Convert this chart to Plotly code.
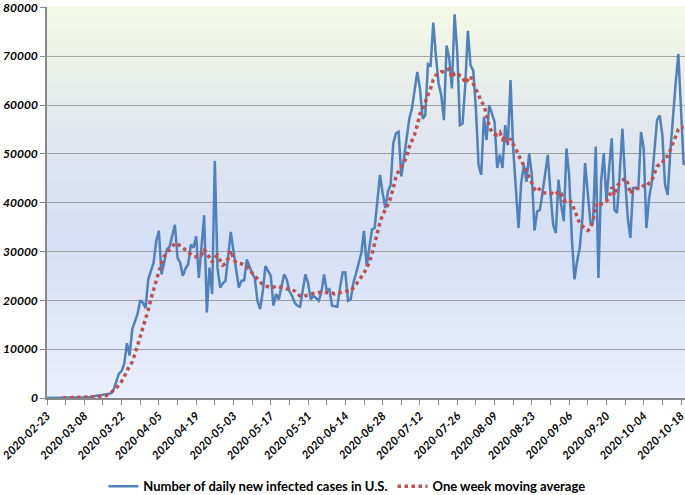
import pandas as pd
import plotly.graph_objects as go

# ---- data ----
blue_start = "2020-02-23"
daily_cases = [
    0, 0, 0, 0, 0, 0, 0, 10, 20, 30,
    40, 60, 80, 100, 120, 150, 200, 280, 350, 450,
    550, 700, 750, 850, 950, 1700, 3600, 5000, 5500, 7000,
    11200, 8700, 14100, 15500, 17200, 20000, 19500, 18400, 24300, 26000,
    27700, 32100, 34300, 25300, 28000, 30400, 31000, 33500, 35500, 28700,
    27700, 25000, 26500, 27400, 31400, 30800, 33100, 24600, 31000, 37400,
    17500, 26700, 21300, 48600, 26700, 22600, 23500, 24000, 29000, 34000,
    30100, 26000, 22600, 24000, 24100, 28400, 27000, 25500, 24600, 19900,
    18200, 21800, 27000, 26000, 25000, 18900, 21300, 20200, 22500, 25300,
    24300, 21900, 20900, 19500, 18900, 18700, 22000, 25300, 23600, 20200,
    20900, 20500, 19900, 21600, 25300, 22000, 22300, 18900, 18800, 18700,
    22600, 25700, 25700, 19900, 20200, 23600, 25500, 27500, 29700, 34200,
    27000, 30800, 34500, 34800, 40300, 45700, 42000, 38900, 42300, 43700,
    52200, 54200, 54500, 45400, 49100, 53000, 57200, 59300, 63000, 66800,
    63400, 57200, 57900, 68400, 68100, 76900, 70000, 64400, 62000, 56900,
    72200, 69500, 63400, 78600, 70800, 55900, 56200, 64000, 75200, 68100,
    67100, 59300, 47700, 45700, 57600, 52800, 60000, 58500, 56600, 47100,
    49800, 47100, 55900, 51800, 65100, 51100, 43000, 34800, 44000, 47700,
    44300, 50100, 45700, 34300, 38200, 38500, 42000, 46000, 49800, 42000,
    35500, 33800, 44700, 39600, 36200, 51100, 45700, 33000, 24300, 28000,
    30800, 36900, 48100, 42000, 35900, 36200, 51500, 24600, 44300, 50100,
    40300, 47000, 53200, 38600, 37900, 46000, 55200, 45000, 36900, 32800,
    43000, 43000, 43000, 54500, 51100, 34800, 40900, 44000, 50000, 56900,
    57900, 53900, 43700, 41600, 50500, 58600, 64500, 70500, 59000, 47700,
]

red_start = "2020-02-29"
moving_avg = [
    0, 10, 15, 25, 35, 50, 65, 85, 110, 130,
    150, 170, 200, 220, 250, 320, 450, 700, 1100, 1600,
    2100, 2600, 3400, 4300, 5600, 6400, 7400, 9000, 10700, 12600,
    14500, 16200, 18000, 20300, 22200, 24200, 26000, 27700, 29000, 29800,
    30400, 31000, 31700, 31600, 31200, 30800, 30400, 30000, 29500, 29000,
    28900, 29000, 29300, 30500, 29500, 28800, 27800, 28800, 29200, 28000,
    27200, 27500, 28500, 30200, 28500, 27700, 27600, 27500, 27200, 26900,
    26200, 25600, 24800, 24200, 23600, 23200, 23000, 22800, 22600, 22700,
    22900, 22800, 22600, 22400, 22300, 22300, 22200, 21900, 21500, 20900,
    20800, 20900, 21100, 21300, 21400, 21600, 21700, 21700, 21600, 21600,
    21600, 21500, 21300, 21400, 21600, 21800, 21900, 21900, 21900, 22500,
    23300, 24000, 24700, 25600, 26600, 27800, 29500, 31800, 34000, 36000,
    37500, 38500, 39600, 41000, 43000, 45200, 46500, 47300, 48300, 49400,
    51400, 52700, 54000, 55900, 58200, 59200, 60500, 62000, 63400, 65200,
    66100, 66300, 66800, 66800, 67200, 67400, 65600, 66500, 66600, 66000,
    65800, 64500, 65200, 65900, 64400, 63400, 62100, 60700, 60000, 58000,
    55600, 54400, 54000, 53900, 54400, 53000, 53500, 52200, 53100, 52000,
    51100, 49700, 48800, 47600, 46500, 45200, 44300, 42800, 43300, 42500,
    42000, 42000, 42000, 42000, 41900, 41600, 42300, 41900, 40400, 40500,
    40600, 39900, 38600, 37000, 35700, 35200, 34700, 34300, 34700, 36300,
    39600, 39100, 39700, 39900, 40300, 41000, 43200, 41500, 43500, 44000,
    44500, 45000, 44000, 41800, 42600, 42900, 42900, 43000, 43500, 43300,
    44000, 44400, 46000, 47400, 47900, 48100, 49400, 49500, 50800, 52400,
    53600, 55000, 55400, 55500,
]

blue_name = "Number of daily new infected cases in U.S."
red_name = "One week moving average"
y_ticks = [0, 10000, 20000, 30000, 40000, 50000, 60000, 70000, 80000]

blue_dates = pd.date_range(blue_start, periods=len(daily_cases), freq="D")
red_dates = pd.date_range(red_start, periods=len(moving_avg), freq="D")

FONT = "Lato"

fig = go.Figure()
fig.add_trace(go.Scatter(x=blue_dates, y=daily_cases, mode="lines", name=blue_name,
                         line=dict(color="#4F81BD", width=2.5)))
fig.add_trace(go.Scatter(x=red_dates, y=moving_avg, mode="lines", name=red_name,
                         line=dict(color="#C0504D", width=3.5, dash="dot")))

# gradient background of the plot area (top pale green -> blue -> pale blue)
stops = [(0.0, (244, 249, 228)), (0.3, (226, 232, 238)), (0.6, (213, 223, 245)), (1.0, (234, 239, 251))]
def col_at(t):
    for (t0, c0), (t1, c1) in zip(stops[:-1], stops[1:]):
        if t0 <= t <= t1:
            f = (t - t0) / (t1 - t0)
            return "rgb(%d,%d,%d)" % tuple(round(a + (b - a) * f) for a, b in zip(c0, c1))
    return "rgb(%d,%d,%d)" % stops[-1][1]

n = 80
shapes = []
for i in range(n):
    t = (i + 0.5) / n
    shapes.append(dict(type="rect", xref="x domain", yref="y domain",
                       x0=0, x1=1, y0=1 - (i + 1) / n, y1=1 - i / n + 0.002,
                       fillcolor=col_at(t), line=dict(width=0), layer="below"))

fig.update_layout(
    width=685, height=495,
    margin=dict(l=47, r=0, t=7, b=97, autoexpand=False),
    paper_bgcolor="white", plot_bgcolor="white",
    shapes=shapes,
    showlegend=True,
    legend=dict(orientation="h", x=0.47, xanchor="center", y=-0.226, yanchor="middle",
                font=dict(family=FONT, size=13, color="#000000", weight="bold"), itemwidth=30,
                bgcolor="rgba(0,0,0,0)", tracegroupgap=0),
    font=dict(family=FONT),
)
fig.update_xaxes(
    type="date", range=["2020-02-23", "2020-10-19 12:00"], automargin=False,
    ticklabeloverflow="allow",
    tick0="2020-02-23", dtick=14 * 86400000, tickformat="%Y-%m-%d", tickangle=-45,
    ticks="outside", ticklen=5, tickcolor="#888888",
    minor=dict(dtick=7 * 86400000, tick0="2020-02-23", ticks="outside", ticklen=5, tickcolor="#888888", showgrid=False),
    showgrid=False, showline=True, linecolor="#888888", linewidth=1.5,
    tickfont=dict(family=FONT, size=11.5, color="#000000", weight="bold", style="italic"),
)
fig.update_yaxes(
    range=[0, 80080], tickvals=y_ticks, ticktext=[str(v) for v in y_ticks],
    automargin=False, ticklabeloverflow="allow",
    showgrid=True, gridcolor="#A0A0A0", gridwidth=1,
    showline=True, linecolor="#888888", linewidth=1.5,
    ticks="outside", ticklen=5, tickcolor="#888888",
    zeroline=False,
    tickfont=dict(family=FONT, size=12, color="#000000", weight="bold", style="italic"),
)

fig.write_html("out.html", config={"displayModeBar": False},
               post_script="document.body.style.margin='0';")
